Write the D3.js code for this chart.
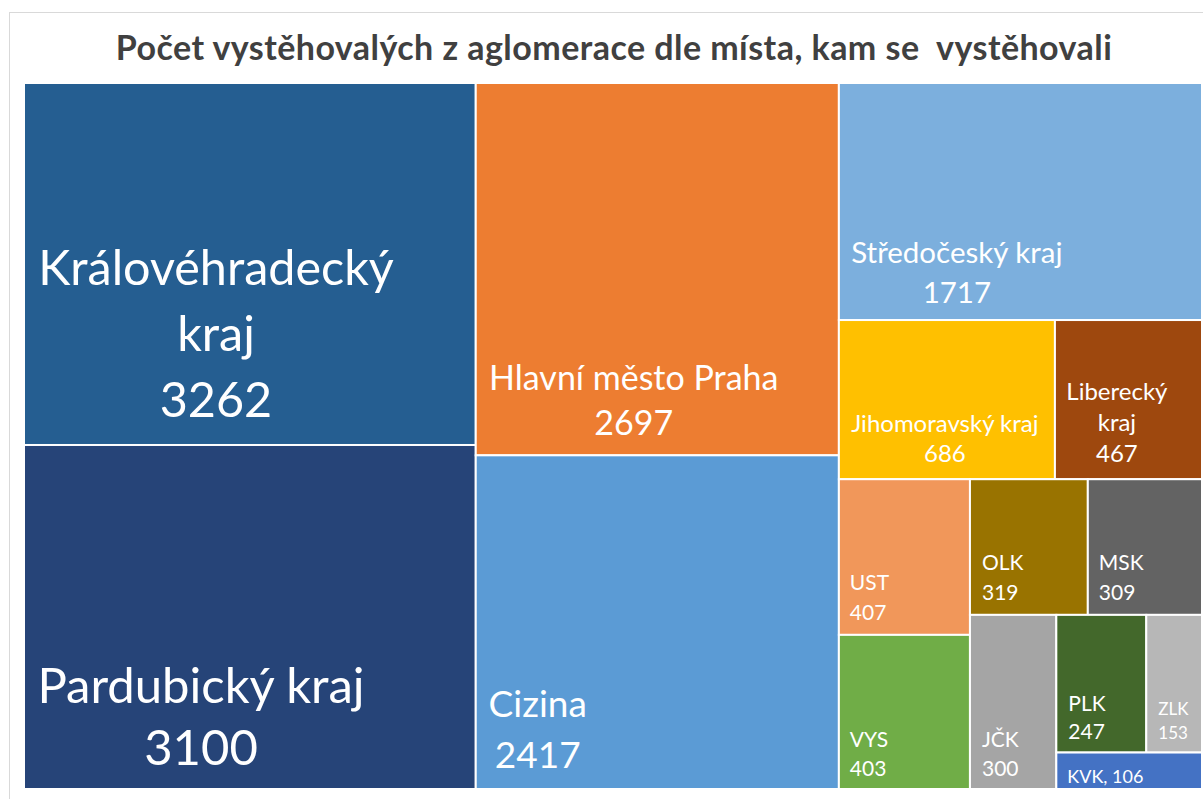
<!DOCTYPE html>
<html>
<head>
<meta charset="utf-8">
<script src="https://cdn.jsdelivr.net/npm/d3@7"></script>
<style>
  body { margin: 0; background: #fff; }
  svg { display: block; font-family: Lato, "Open Sans", sans-serif; }
</style>
</head>
<body>
<svg id="chart" width="1203" height="799"></svg>
<script>
// chart data
const title = "Počet vystěhovalých z aglomerace dle místa, kam se  vystěhovali";
const categories = [
  "Královéhradecký kraj", "Pardubický kraj", "Hlavní město Praha", "Cizina",
  "Středočeský kraj", "Jihomoravský kraj", "Liberecký kraj", "UST", "VYS",
  "OLK", "MSK", "JČK", "PLK", "ZLK", "KVK"
];
const values = [3262, 3100, 2697, 2417, 1717, 686, 467, 407, 403, 319, 309, 300, 247, 153, 106];
const colors = [
  "#255E91", "#264478", "#ED7D31", "#5B9BD5", "#7CAFDD", "#FFC000", "#9E480E", "#F1975A",
  "#70AD47", "#997300", "#636363", "#A5A5A5", "#43682B", "#B7B7B7", "#4472C4"
];

const stripSizes = [2, 2, 1, 2, 2, 2, 1, 2, 1];

// label text lines and placement inside each tile
// [anchor, dx, first baseline dy, line gap, font size]
const labelLines = {
  "Královéhradecký kraj": ["Královéhradecký", "kraj", "{v}"],
  "Pardubický kraj": ["Pardubický kraj", "{v}"],
  "Hlavní město Praha": ["Hlavní město Praha", "{v}"],
  "Liberecký kraj": ["Liberecký", "kraj", "{v}"],
  "KVK": ["KVK, {v}"]
};
const labelSpots = {
  "Královéhradecký kraj": ["middle", 192, 202, 66, 48.5],
  "Pardubický kraj": ["middle", 177, 258, 62, 49],
  "Hlavní město Praha": ["middle", 158, 307, 45, 34],
  "Cizina": ["middle", 62, 262, 51, 37],
  "Středočeský kraj": ["middle", 118, 180, 40, 29.5],
  "Jihomoravský kraj": ["middle", 106, 112, 30, 24],
  "Liberecký kraj": ["middle", 62, 80, 31, 24],
  "UST": ["start", 11, 111, 30, 21],
  "VYS": ["start", 11, 112, 29, 21],
  "OLK": ["start", 12, 91, 30, 21],
  "MSK": ["start", 11, 91, 30, 21],
  "JČK": ["start", 12, 132, 29, 21],
  "PLK": ["start", 12, 96, 28, 21],
  "ZLK": ["start", 12, 100, 24, 17],
  "KVK": ["start", 11, 30, 0, 18]
};

const width = 1203;
const height = 799;
const plot = {left: 24, top: 83, right: 1202, bottom: 789};

const svg = d3.select("#chart");

// chart frame (runs off the picture on the right and bottom)
svg.append("rect")
  .attr("x", 9.5).attr("y", 12.5)
  .attr("width", 1210).attr("height", 800)
  .attr("fill", "#fff")
  .attr("stroke", "#D9D9D9");

svg.append("text")
  .attr("x", 614).attr("y", 60)
  .attr("text-anchor", "middle")
  .attr("font-size", 34)
  .attr("font-weight", "bold")
  .attr("letter-spacing", 0.45)
  .attr("fill", "#404040")
  .style("white-space", "pre")
  .text(title);

/**
 * Strip tiling: each strip runs along the shorter side of what is left
 */
function stripTile(parent, x0, y0, x1, y1) {
  const nodes = parent.children;
  let rest = parent.value, i = 0;
  stripSizes.forEach(size => {
    const kids = nodes.slice(i, i + size);
    const row = {value: d3.sum(kids, d => d.value), children: kids};
    const dx = x1 - x0, dy = y1 - y0;
    if (dx < dy) {
      const y = y0 + dy * row.value / rest;
      d3.treemapDice(row, x0, y0, x1, y);
      y0 = y;
    } else {
      const x = x0 + dx * row.value / rest;
      d3.treemapSlice(row, x0, y0, x, y1);
      x0 = x;
    }
    rest -= row.value;
    i += size;
  });
}

const root = d3.hierarchy({
    children: categories.map((name, i) => ({name: name, value: values[i], color: colors[i]}))
  })
  .sum(d => d.value || 0)
  .sort((a, b) => b.value - a.value);

d3.treemap()
  .size([plot.right - plot.left, plot.bottom - plot.top])
  .tile(stripTile)(root);

const cell = svg.append("g")
  .attr("transform", `translate(${plot.left},${plot.top})`)
  .selectAll("g")
  .data(root.leaves())
  .join("g")
  .attr("transform", d => `translate(${d.x0},${d.y0})`);

cell.append("rect")
  .attr("width", d => d.x1 - d.x0)
  .attr("height", d => d.y1 - d.y0)
  .attr("fill", d => d.data.color)
  .attr("stroke", "#fff")
  .attr("stroke-width", 2);

cell.each(function (d) {
  const name = d.data.name;
  const [anchor, dx, dy, gap, size] = labelSpots[name];
  const lines = (labelLines[name] || [name, "{v}"]).map(s => s.replace("{v}", d.data.value));
  const text = d3.select(this).append("text")
    .attr("text-anchor", anchor)
    .attr("font-size", size)
    .attr("fill", "#fff");
  text.selectAll("tspan")
    .data(lines)
    .join("tspan")
    .attr("x", dx)
    .attr("y", (t, j) => dy + j * gap)
    .text(t => t);
});
</script>
</body>
</html>
